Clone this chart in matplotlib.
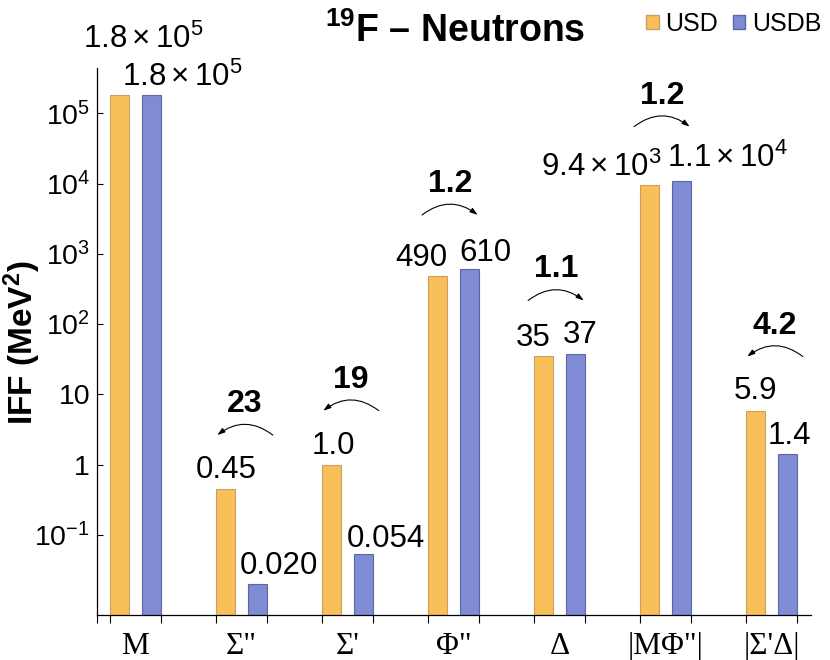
import math
import numpy as np
import matplotlib
matplotlib.use("Agg")
import matplotlib.pyplot as plt
from matplotlib.patches import Patch
from matplotlib import transforms

plt.rcParams['font.family'] = ['Liberation Sans', 'DejaVu Sans']
plt.rcParams['mathtext.fontset'] = 'custom'
plt.rcParams['mathtext.rm'] = 'Liberation Sans'
plt.rcParams['mathtext.it'] = 'Liberation Sans:italic'
plt.rcParams['mathtext.bf'] = 'Liberation Sans:bold'

# data
categories = ['M', 'Σ"', "Σ'", 'Φ"', 'Δ', '|MΦ"|', "|Σ'Δ|"]
usd = [1.8e5, 0.45, 1.0, 490, 35, 9.4e3, 5.9]
usdb = [1.8e5, 0.020, 0.054, 610, 37, 1.1e4, 1.4]
ratios = ['', '23', '19', '1.2', '1.1', '1.2', '4.2']

# label nudges in pixels: (dx from bar centre, dy of text middle above bar top)
usd_nudge = [(24, 58), (1, 22), (1.5, 22), (-16.5, 21), (-10.5, 21), (-48.5, 20), (0, 23)]
usdb_nudge = [(31, 20), (21, 21), (22.5, 18), (15.5, 19), (4.5, 22), (45.5, 25), (2, 21)]

ORANGE = '#F9BF58'
ORANGE_EDGE = '#C9A063'
BLUE = '#7F8BD3'
BLUE_EDGE = '#5C66A8'

PX = 0.72  # points per pixel at dpi 100


def fmt(v):
    e = math.floor(math.log10(v))
    if e >= 3:
        return "$%.1f\\times10^{%d}$" % (v / 10 ** e, e)
    return "%.*f" % (max(0, 1 - e), v)


fig = plt.figure(figsize=(8.3, 6.6), dpi=100)
ax = fig.add_axes([97 / 830, 45 / 660, 714 / 830, 547 / 660])
ax.set_yscale('log')

x = np.arange(len(categories))
off = 0.151
w = 0.179
ax.bar(x - off, usd, width=w, color=ORANGE, edgecolor=ORANGE_EDGE, linewidth=0.8)
ax.bar(x + off, usdb, width=w, color=BLUE, edgecolor=BLUE_EDGE, linewidth=0.8)

ax.set_xlim(-0.363, 6.373)
ax.set_ylim(10 ** -2.138, 10 ** 5.644)

# value labels
for i in range(len(categories)):
    for xs, v, (dx, dy) in ((x[i] - off, usd[i], usd_nudge[i]), (x[i] + off, usdb[i], usdb_nudge[i])):
        ax.annotate(fmt(v), xy=(xs, v), xytext=(dx * PX, (dy - 11) * PX),
                    textcoords='offset points', ha='center', va='baseline',
                    fontsize=22.5, annotation_clip=False)

# ratio arrows
arrow_tr = transforms.offset_copy(ax.transData, fig=fig, y=54, units='dots')
for i in range(len(categories)):
    if not ratios[i]:
        continue
    d = 1 if usdb[i] > usd[i] else -1
    top = max(usd[i], usdb[i])
    tail = x[i] - d * 0.296
    head = x[i] + d * 0.228
    ax.annotate('', xy=(head, top), xycoords=arrow_tr,
                xytext=(tail, top), textcoords=arrow_tr,
                arrowprops=dict(arrowstyle='-|>,head_length=0.45,head_width=0.15',
                                connectionstyle='arc3,rad=%.2f' % (-0.38 * d),
                                color='black', lw=0.8, shrinkA=0, shrinkB=0,
                                mutation_scale=10),
                annotation_clip=False)
    ax.annotate(ratios[i], xy=((tail + head) / 2, top), xytext=(0, 77 * PX),
                textcoords='offset points', ha='center', va='baseline',
                fontsize=23, fontweight='bold', annotation_clip=False)

# axes styling
for s in ('top', 'right'):
    ax.spines[s].set_visible(False)
for s in ('left', 'bottom'):
    ax.spines[s].set_linewidth(0.9)

exps = list(range(-1, 6))
ylabels = []
for e in exps:
    if e == 0:
        ylabels.append('1')
    elif e == 1:
        ylabels.append('10')
    else:
        ylabels.append('10$^{%d}$' % e)
ax.set_yticks([10.0 ** e for e in exps])
ax.set_yticklabels(ylabels)
ax.yaxis.set_minor_locator(matplotlib.ticker.NullLocator())
ax.tick_params(axis='y', which='major', direction='in', length=4, width=0.8,
               pad=5, labelsize=20.5)

ax.set_xticks(x)
ax.set_xticklabels(categories, fontfamily='Liberation Serif', fontsize=22.5)
edges = [ax.get_xlim()[0]]
for c in x:
    edges += [c - off - w / 2, c + off + w / 2]
ax.set_xticks(edges, minor=True)
ax.tick_params(axis='x', which='major', length=0, pad=12)
ax.tick_params(axis='x', which='minor', direction='out', length=6, width=0.8)

fig.text(22 / 830, 1 - 343 / 660, 'IFF (MeV$^{\\mathbf{2}}$)', rotation=90,
         ha='center', va='center', fontsize=24, fontweight='bold')

fig.text(455 / 830, 1 - 42 / 660, '$^{\\mathbf{19}}$F – Neutrons', ha='center',
         va='baseline', fontsize=27, fontweight='bold')

handles = [Patch(facecolor=ORANGE, edgecolor=ORANGE_EDGE, label='USD'),
           Patch(facecolor=BLUE, edgecolor=BLUE_EDGE, label='USDB')]
fig.legend(handles=handles, loc='upper right', bbox_to_anchor=(821 / 830, 1 - 12 / 660),
           ncol=2, frameon=False, fontsize=18, handlelength=0.5, handleheight=0.5,
           handletextpad=0.25, columnspacing=0.6, borderaxespad=0, borderpad=0)

fig.savefig('out.png', dpi=100)
